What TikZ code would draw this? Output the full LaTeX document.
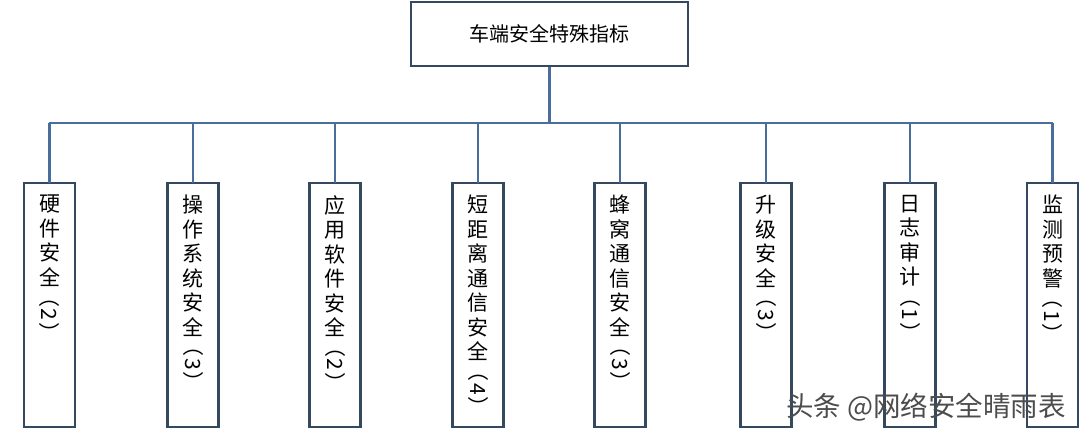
\documentclass[tikz,border=0pt]{standalone}
\usepackage{fontspec}
\usepackage{graphicx}
\setmainfont{Noto Sans CJK SC}
\definecolor{ln}{HTML}{4A6E9C}
\definecolor{bx}{HTML}{34495F}
\newcommand{\rp}[1]{\rotatebox[origin=c]{-90}{\makebox[18pt]{（}\makebox[18pt]{#1}\makebox[18pt]{）}}}
\begin{document}
\begin{tikzpicture}[x=1pt,y=-1pt,
  box/.style={draw=bx,line width=2.4pt,fill=white},
  conn/.style={draw=ln,line width=2.6pt},
  vt/.style={anchor=north,align=center,font=\fontsize{21}{24.5}\selectfont,inner sep=0pt}]
\useasboundingbox (0,0) rectangle (1080,434);
\node[box,minimum width=277,minimum height=64,font=\fontsize{20}{24}\selectfont] (top) at (549.5,34) {车端安全特殊指标};
\coordinate (bus) at (549.5,123);
\draw[conn] (top.south) -- (bus);
\draw[conn] (49,123) -- (1053,123);
\foreach \cx/\n/\t in {
 49.5/a/{硬\\件\\安\\全\\\rp{2}},
 193/b/{操\\作\\系\\统\\安\\全\\\rp{3}},
 335/c/{应\\用\\软\\件\\安\\全\\\rp{2}},
 478/d/{短\\距\\离\\通\\信\\安\\全\\\rp{4}},
 620/e/{蜂\\窝\\通\\信\\安\\全\\\rp{3}},
 766/f/{升\\级\\安\\全\\\rp{3}},
 910/g/{日\\志\\审\\计\\\rp{1}},
 1052.5/h/{监\\测\\预\\警\\\rp{1}}}{
  \coordinate (j\n) at (\cx,123);
  \draw[box] (\cx-25.5,183) rectangle (\cx+25.5,427);
  \coordinate (b\n) at (\cx,183);
  \draw[conn] (j\n) -- (b\n);
  \node[vt] (t\n) at (\cx,195) {\t};
}
\node[anchor=west,text=black!70,font=\fontsize{27.5}{30}\selectfont,inner sep=0pt] (wm) at (786,407) {头条 @网络安全晴雨表};
\end{tikzpicture}
\end{document}
